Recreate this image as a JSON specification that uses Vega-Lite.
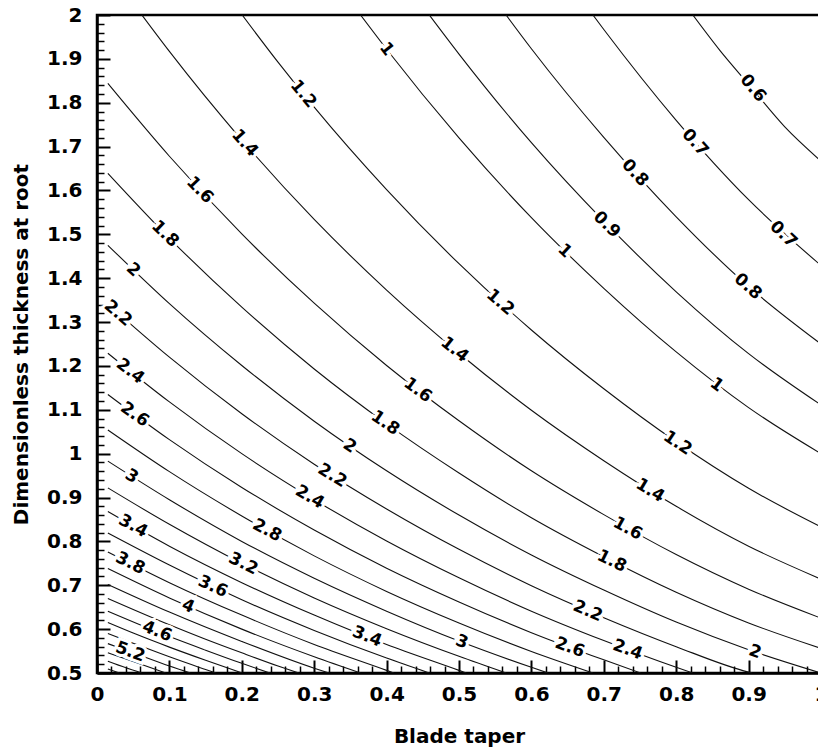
{
  "$schema": "https://vega.github.io/schema/vega-lite/v6.json",
  "width": 724,
  "height": 658,
  "autosize": {"type": "none"},
  "padding": {"left": 97, "top": 15, "right": 0, "bottom": 78},
  "background": "white",
  "config": {
    "view": {"stroke": "black", "strokeWidth": 2.5},
    "font": "DejaVu Sans",
    "axis": {
      "domainColor": "black", "domainWidth": 2.5, "tickColor": "black", "tickWidth": 2,
      "labelColor": "black", "labelFont": "DejaVu Sans", "labelFontSize": 20, "labelFontWeight": "bold",
      "titleFont": "DejaVu Sans", "titleFontSize": 20, "titleFontWeight": "bold", "titleColor": "black",
      "grid": false, "labelFlush": false
    }
  },
  "datasets": {
    "lines": [
      {"level": 0.6, "x": 0.823, "y": 2.0}, {"level": 0.6, "x": 0.86, "y": 1.92}, {"level": 0.6, "x": 0.9, "y": 1.842}, {"level": 0.6, "x": 0.95, "y": 1.745}, {"level": 0.6, "x": 1.0, "y": 1.667},
      {"level": 0.7, "x": 0.685, "y": 2.0}, {"level": 0.7, "x": 0.7, "y": 1.967}, {"level": 0.7, "x": 0.8, "y": 1.76}, {"level": 0.7, "x": 0.9, "y": 1.579}, {"level": 0.7, "x": 1.0, "y": 1.429},
      {"level": 0.8, "x": 0.565, "y": 2.0}, {"level": 0.8, "x": 0.6, "y": 1.923}, {"level": 0.8, "x": 0.7, "y": 1.721}, {"level": 0.8, "x": 0.8, "y": 1.54}, {"level": 0.8, "x": 0.9, "y": 1.381}, {"level": 0.8, "x": 1.0, "y": 1.25},
      {"level": 0.9, "x": 0.459, "y": 2.0}, {"level": 0.9, "x": 0.5, "y": 1.911}, {"level": 0.9, "x": 0.6, "y": 1.709}, {"level": 0.9, "x": 0.7, "y": 1.53}, {"level": 0.9, "x": 0.8, "y": 1.369}, {"level": 0.9, "x": 0.9, "y": 1.228}, {"level": 0.9, "x": 1.0, "y": 1.111},
      {"level": 1.0, "x": 0.364, "y": 2.0}, {"level": 1.0, "x": 0.4, "y": 1.922}, {"level": 1.0, "x": 0.5, "y": 1.72}, {"level": 1.0, "x": 0.6, "y": 1.538}, {"level": 1.0, "x": 0.7, "y": 1.377}, {"level": 1.0, "x": 0.8, "y": 1.232}, {"level": 1.0, "x": 0.9, "y": 1.105}, {"level": 1.0, "x": 1.0, "y": 1.0},
      {"level": 1.2, "x": 0.2005, "y": 2.0}, {"level": 1.2, "x": 0.25, "y": 1.8925}, {"level": 1.2, "x": 0.3, "y": 1.79}, {"level": 1.2, "x": 0.4, "y": 1.602}, {"level": 1.2, "x": 0.5, "y": 1.433}, {"level": 1.2, "x": 0.6, "y": 1.282}, {"level": 1.2, "x": 0.7, "y": 1.148}, {"level": 1.2, "x": 0.8, "y": 1.027}, {"level": 1.2, "x": 0.9, "y": 0.921}, {"level": 1.2, "x": 1.0, "y": 0.833},
      {"level": 1.4, "x": 0.062, "y": 2.0}, {"level": 1.4, "x": 0.1, "y": 1.917}, {"level": 1.4, "x": 0.2, "y": 1.715}, {"level": 1.4, "x": 0.3, "y": 1.534}, {"level": 1.4, "x": 0.4, "y": 1.373}, {"level": 1.4, "x": 0.5, "y": 1.229}, {"level": 1.4, "x": 0.6, "y": 1.099}, {"level": 1.4, "x": 0.7, "y": 0.984}, {"level": 1.4, "x": 0.8, "y": 0.88}, {"level": 1.4, "x": 0.9, "y": 0.789}, {"level": 1.4, "x": 1.0, "y": 0.714},
      {"level": 1.6, "x": 0.015, "y": 1.844}, {"level": 1.6, "x": 0.1, "y": 1.678}, {"level": 1.6, "x": 0.2, "y": 1.501}, {"level": 1.6, "x": 0.3, "y": 1.343}, {"level": 1.6, "x": 0.4, "y": 1.201}, {"level": 1.6, "x": 0.5, "y": 1.075}, {"level": 1.6, "x": 0.6, "y": 0.961}, {"level": 1.6, "x": 0.7, "y": 0.861}, {"level": 1.6, "x": 0.8, "y": 0.77}, {"level": 1.6, "x": 0.9, "y": 0.691}, {"level": 1.6, "x": 1.0, "y": 0.625},
      {"level": 1.8, "x": 0.015, "y": 1.639}, {"level": 1.8, "x": 0.1, "y": 1.491}, {"level": 1.8, "x": 0.2, "y": 1.334}, {"level": 1.8, "x": 0.3, "y": 1.193}, {"level": 1.8, "x": 0.4, "y": 1.068}, {"level": 1.8, "x": 0.5, "y": 0.956}, {"level": 1.8, "x": 0.6, "y": 0.854}, {"level": 1.8, "x": 0.7, "y": 0.765}, {"level": 1.8, "x": 0.8, "y": 0.684}, {"level": 1.8, "x": 0.9, "y": 0.614}, {"level": 1.8, "x": 1.0, "y": 0.556},
      {"level": 2.0, "x": 0.015, "y": 1.475}, {"level": 2.0, "x": 0.1, "y": 1.342}, {"level": 2.0, "x": 0.2, "y": 1.201}, {"level": 2.0, "x": 0.3, "y": 1.074}, {"level": 2.0, "x": 0.4, "y": 0.961}, {"level": 2.0, "x": 0.5, "y": 0.86}, {"level": 2.0, "x": 0.6, "y": 0.769}, {"level": 2.0, "x": 0.7, "y": 0.689}, {"level": 2.0, "x": 0.8, "y": 0.616}, {"level": 2.0, "x": 0.9, "y": 0.553}, {"level": 2.0, "x": 1.0, "y": 0.5},
      {"level": 2.2, "x": 0.015, "y": 1.341}, {"level": 2.2, "x": 0.1, "y": 1.22}, {"level": 2.2, "x": 0.2, "y": 1.091}, {"level": 2.2, "x": 0.3, "y": 0.976}, {"level": 2.2, "x": 0.4, "y": 0.874}, {"level": 2.2, "x": 0.5, "y": 0.782}, {"level": 2.2, "x": 0.6, "y": 0.699}, {"level": 2.2, "x": 0.7, "y": 0.626}, {"level": 2.2, "x": 0.8, "y": 0.56}, {"level": 2.2, "x": 0.9, "y": 0.502}, {"level": 2.2, "x": 0.905, "y": 0.5},
      {"level": 2.4, "x": 0.015, "y": 1.229}, {"level": 2.4, "x": 0.1, "y": 1.118}, {"level": 2.4, "x": 0.2, "y": 1.0}, {"level": 2.4, "x": 0.3, "y": 0.895}, {"level": 2.4, "x": 0.4, "y": 0.801}, {"level": 2.4, "x": 0.5, "y": 0.717}, {"level": 2.4, "x": 0.6, "y": 0.641}, {"level": 2.4, "x": 0.7, "y": 0.574}, {"level": 2.4, "x": 0.8, "y": 0.513}, {"level": 2.4, "x": 0.823, "y": 0.5},
      {"level": 2.6, "x": 0.015, "y": 1.135}, {"level": 2.6, "x": 0.1, "y": 1.032}, {"level": 2.6, "x": 0.2, "y": 0.923}, {"level": 2.6, "x": 0.3, "y": 0.826}, {"level": 2.6, "x": 0.4, "y": 0.739}, {"level": 2.6, "x": 0.5, "y": 0.662}, {"level": 2.6, "x": 0.6, "y": 0.592}, {"level": 2.6, "x": 0.7, "y": 0.53}, {"level": 2.6, "x": 0.751, "y": 0.5},
      {"level": 2.8, "x": 0.015, "y": 1.054}, {"level": 2.8, "x": 0.1, "y": 0.959}, {"level": 2.8, "x": 0.2, "y": 0.858}, {"level": 2.8, "x": 0.3, "y": 0.767}, {"level": 2.8, "x": 0.4, "y": 0.686}, {"level": 2.8, "x": 0.5, "y": 0.614}, {"level": 2.8, "x": 0.6, "y": 0.549}, {"level": 2.8, "x": 0.685, "y": 0.5},
      {"level": 3.0, "x": 0.015, "y": 0.983}, {"level": 3.0, "x": 0.1, "y": 0.895}, {"level": 3.0, "x": 0.2, "y": 0.8}, {"level": 3.0, "x": 0.3, "y": 0.716}, {"level": 3.0, "x": 0.4, "y": 0.641}, {"level": 3.0, "x": 0.5, "y": 0.573}, {"level": 3.0, "x": 0.6, "y": 0.513}, {"level": 3.0, "x": 0.623, "y": 0.5},
      {"level": 3.2, "x": 0.015, "y": 0.922}, {"level": 3.2, "x": 0.1, "y": 0.839}, {"level": 3.2, "x": 0.2, "y": 0.75}, {"level": 3.2, "x": 0.3, "y": 0.671}, {"level": 3.2, "x": 0.4, "y": 0.601}, {"level": 3.2, "x": 0.5, "y": 0.538}, {"level": 3.2, "x": 0.565, "y": 0.5},
      {"level": 3.4, "x": 0.015, "y": 0.868}, {"level": 3.4, "x": 0.1, "y": 0.789}, {"level": 3.4, "x": 0.2, "y": 0.706}, {"level": 3.4, "x": 0.3, "y": 0.632}, {"level": 3.4, "x": 0.4, "y": 0.565}, {"level": 3.4, "x": 0.5, "y": 0.506}, {"level": 3.4, "x": 0.51, "y": 0.5},
      {"level": 3.6, "x": 0.015, "y": 0.819}, {"level": 3.6, "x": 0.1, "y": 0.746}, {"level": 3.6, "x": 0.2, "y": 0.667}, {"level": 3.6, "x": 0.3, "y": 0.597}, {"level": 3.6, "x": 0.4, "y": 0.534}, {"level": 3.6, "x": 0.459, "y": 0.5},
      {"level": 3.8, "x": 0.015, "y": 0.776}, {"level": 3.8, "x": 0.1, "y": 0.706}, {"level": 3.8, "x": 0.2, "y": 0.632}, {"level": 3.8, "x": 0.3, "y": 0.565}, {"level": 3.8, "x": 0.4, "y": 0.506}, {"level": 3.8, "x": 0.41, "y": 0.5},
      {"level": 4.0, "x": 0.015, "y": 0.738}, {"level": 4.0, "x": 0.1, "y": 0.671}, {"level": 4.0, "x": 0.2, "y": 0.6}, {"level": 4.0, "x": 0.3, "y": 0.537}, {"level": 4.0, "x": 0.364, "y": 0.5},
      {"level": 4.2, "x": 0.015, "y": 0.702}, {"level": 4.2, "x": 0.1, "y": 0.639}, {"level": 4.2, "x": 0.2, "y": 0.572}, {"level": 4.2, "x": 0.3, "y": 0.511}, {"level": 4.2, "x": 0.3205, "y": 0.5},
      {"level": 4.4, "x": 0.015, "y": 0.67}, {"level": 4.4, "x": 0.1, "y": 0.61}, {"level": 4.4, "x": 0.15, "y": 0.577}, {"level": 4.4, "x": 0.2, "y": 0.546}, {"level": 4.4, "x": 0.25, "y": 0.516}, {"level": 4.4, "x": 0.2787, "y": 0.5},
      {"level": 4.6, "x": 0.015, "y": 0.641}, {"level": 4.6, "x": 0.1, "y": 0.583}, {"level": 4.6, "x": 0.15, "y": 0.552}, {"level": 4.6, "x": 0.2, "y": 0.522}, {"level": 4.6, "x": 0.2387, "y": 0.5},
      {"level": 4.8, "x": 0.015, "y": 0.615}, {"level": 4.8, "x": 0.05, "y": 0.591}, {"level": 4.8, "x": 0.1, "y": 0.559}, {"level": 4.8, "x": 0.15, "y": 0.529}, {"level": 4.8, "x": 0.2005, "y": 0.5},
      {"level": 5.0, "x": 0.015, "y": 0.59}, {"level": 5.0, "x": 0.05, "y": 0.568}, {"level": 5.0, "x": 0.1, "y": 0.537}, {"level": 5.0, "x": 0.15, "y": 0.508}, {"level": 5.0, "x": 0.164, "y": 0.5},
      {"level": 5.2, "x": 0.015, "y": 0.567}, {"level": 5.2, "x": 0.05, "y": 0.546}, {"level": 5.2, "x": 0.1, "y": 0.516}, {"level": 5.2, "x": 0.129, "y": 0.5},
      {"level": 5.4, "x": 0.015, "y": 0.546}, {"level": 5.4, "x": 0.05, "y": 0.526}, {"level": 5.4, "x": 0.095, "y": 0.5},
      {"level": 5.6, "x": 0.015, "y": 0.527}, {"level": 5.6, "x": 0.04, "y": 0.512}, {"level": 5.6, "x": 0.062, "y": 0.5},
      {"level": 5.8, "x": 0.015, "y": 0.509}, {"level": 5.8, "x": 0.031, "y": 0.5}
    ],
    "labels": [
      {"label": "1", "x": 0.4, "y": 1.922},
      {"label": "1.2", "x": 0.285, "y": 1.82},
      {"label": "1.4", "x": 0.204, "y": 1.708},
      {"label": "1.6", "x": 0.142, "y": 1.601},
      {"label": "1.8", "x": 0.094, "y": 1.501},
      {"label": "2", "x": 0.05, "y": 1.419},
      {"label": "2.2", "x": 0.029, "y": 1.32},
      {"label": "2.4", "x": 0.046, "y": 1.188},
      {"label": "2.6", "x": 0.052, "y": 1.089},
      {"label": "3", "x": 0.048, "y": 0.948},
      {"label": "3.4", "x": 0.05, "y": 0.835},
      {"label": "3.8", "x": 0.046, "y": 0.75},
      {"label": "4.6", "x": 0.083, "y": 0.595},
      {"label": "5.2", "x": 0.046, "y": 0.548},
      {"label": "4", "x": 0.126, "y": 0.652},
      {"label": "3.6", "x": 0.16, "y": 0.697},
      {"label": "3.2", "x": 0.202, "y": 0.749},
      {"label": "2.8", "x": 0.235, "y": 0.825},
      {"label": "2.4", "x": 0.294, "y": 0.901},
      {"label": "2.2", "x": 0.325, "y": 0.95},
      {"label": "2", "x": 0.349, "y": 1.017},
      {"label": "1.8", "x": 0.398, "y": 1.07},
      {"label": "1.6", "x": 0.443, "y": 1.145},
      {"label": "1.4", "x": 0.494, "y": 1.237},
      {"label": "1.2", "x": 0.557, "y": 1.345},
      {"label": "1", "x": 0.646, "y": 1.462},
      {"label": "0.9", "x": 0.704, "y": 1.522},
      {"label": "0.8", "x": 0.743, "y": 1.64},
      {"label": "0.7", "x": 0.826, "y": 1.709},
      {"label": "0.6", "x": 0.906, "y": 1.833},
      {"label": "0.7", "x": 0.948, "y": 1.5},
      {"label": "0.8", "x": 0.899, "y": 1.381},
      {"label": "1", "x": 0.856, "y": 1.157},
      {"label": "1.2", "x": 0.802, "y": 1.024},
      {"label": "1.4", "x": 0.764, "y": 0.916},
      {"label": "1.6", "x": 0.733, "y": 0.829},
      {"label": "1.8", "x": 0.711, "y": 0.755},
      {"label": "2.2", "x": 0.678, "y": 0.641},
      {"label": "2.6", "x": 0.653, "y": 0.558},
      {"label": "2.4", "x": 0.733, "y": 0.553},
      {"label": "2", "x": 0.909, "y": 0.548},
      {"label": "3", "x": 0.504, "y": 0.571},
      {"label": "3.4", "x": 0.373, "y": 0.583}
    ]
  },
  "layer": [
    {
      "data": {"name": "lines"},
      "mark": {"type": "line", "interpolate": "monotone", "color": "#111111", "strokeWidth": 1.1, "clip": true},
      "encoding": {
        "x": {"field": "x", "type": "quantitative", "scale": {"domain": [0, 1], "nice": false, "zero": false},
          "axis": {"orient": "bottom", "values": [0, 0.1, 0.2, 0.3, 0.4, 0.5, 0.6, 0.7, 0.8, 0.9, 1], "format": "~g",
            "title": "Blade taper", "tickSize": -13, "labelPadding": 24, "titlePadding": 22}},
        "y": {"field": "y", "type": "quantitative", "scale": {"domain": [0.5, 2], "nice": false, "zero": false},
          "axis": {"orient": "left", "values": [0.5, 0.6, 0.7, 0.8, 0.9, 1, 1.1, 1.2, 1.3, 1.4, 1.5, 1.6, 1.7, 1.8, 1.9, 2], "format": "~g",
            "title": "Dimensionless thickness at root", "tickSize": -13, "labelPadding": 28, "titlePadding": 15}},
        "detail": {"field": "level", "type": "nominal"}
      }
    },
    {
      "data": {"name": "labels"},
      "mark": {"type": "text", "color": "white", "stroke": "white", "strokeWidth": 6, "fontSize": 17, "fontWeight": "bold", "font": "DejaVu Sans", "align": "center", "baseline": "middle"},
      "encoding": {
        "x": {"field": "x", "type": "quantitative", "axis": null},
        "y": {"field": "y", "type": "quantitative", "axis": null},
        "text": {"field": "label", "type": "nominal"},
        "angle": {"field": "y", "type": "quantitative", "scale": {"type": "sqrt", "domain": [0.5, 2], "range": [18.6, 53.4]}, "legend": null}
      }
    },
    {
      "data": {"name": "labels"},
      "mark": {"type": "text", "color": "black", "fontSize": 17, "fontWeight": "bold", "font": "DejaVu Sans", "align": "center", "baseline": "middle"},
      "encoding": {
        "x": {"field": "x", "type": "quantitative", "axis": null},
        "y": {"field": "y", "type": "quantitative", "axis": null},
        "text": {"field": "label", "type": "nominal"},
        "angle": {"field": "y", "type": "quantitative", "scale": {"type": "sqrt", "domain": [0.5, 2], "range": [18.6, 53.4]}, "legend": null}
      }
    },
    {
      "data": {"name": "labels"},
      "mark": {"type": "point", "opacity": 0},
      "encoding": {
        "x": {"field": "x", "type": "quantitative",
          "axis": {"orient": "bottom", "values": [0.02,0.04,0.06,0.08,0.12,0.14,0.16,0.18,0.22,0.24,0.26,0.28,0.32,0.34,0.36,0.38,0.42,0.44,0.46,0.48,0.52,0.54,0.56,0.58,0.62,0.64,0.66,0.68,0.72,0.74,0.76,0.78,0.82,0.84,0.86,0.88,0.92,0.94,0.96,0.98],
            "labels": false, "domain": false, "tickSize": -7, "tickWidth": 1.5, "title": null}},
        "y": {"field": "y", "type": "quantitative",
          "axis": {"orient": "left", "values": [0.52,0.54,0.56,0.58,0.62,0.64,0.66,0.68,0.72,0.74,0.76,0.78,0.82,0.84,0.86,0.88,0.92,0.94,0.96,0.98,1.02,1.04,1.06,1.08,1.12,1.14,1.16,1.18,1.22,1.24,1.26,1.28,1.32,1.34,1.36,1.38,1.42,1.44,1.46,1.48,1.52,1.54,1.56,1.58,1.62,1.64,1.66,1.68,1.72,1.74,1.76,1.78,1.82,1.84,1.86,1.88,1.92,1.94,1.96,1.98],
            "labels": false, "domain": false, "tickSize": -7, "tickWidth": 1.5, "title": null}}
      }
    }
  ],
  "resolve": {"axis": {"x": "independent", "y": "independent"}}
}
